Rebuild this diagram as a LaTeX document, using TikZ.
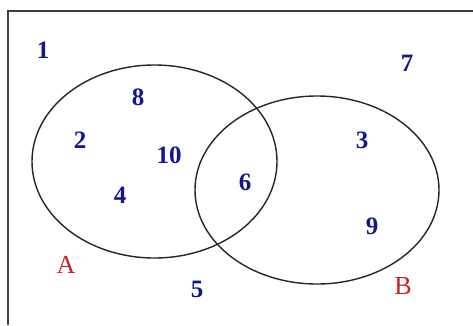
\documentclass[tikz,border=0pt]{standalone}
\usepackage{fontspec}
\usetikzlibrary{shapes.geometric}
\setmainfont{Liberation Serif}
\definecolor{numblue}{RGB}{20,20,150}
\definecolor{labred}{RGB}{200,35,35}
\begin{document}
\begin{tikzpicture}[x=1pt,y=-1pt,
  num/.style={text=numblue,font=\fontsize{25}{27}\selectfont\bfseries,inner sep=0pt},
  setlab/.style={text=labred,font=\fontsize{26}{28}\selectfont,inner sep=0pt},
  setring/.style={draw=black!85,line width=1.4pt}]
\useasboundingbox (0,0) rectangle (473,325);
\fill[white] (0,0) rectangle (473,325);
\coordinate (fl) at (8,325);
\coordinate (ftl) at (8,11);
\coordinate (ftr) at (473,11);
\draw[line width=2pt,black!75] (fl) -- (ftl) -- (ftr);
\node[setring,ellipse,minimum width=245pt,minimum height=193pt,inner sep=0pt] (A) at (154.5,161.5) {};
\node[setring,ellipse,minimum width=244pt,minimum height=188pt,inner sep=0pt] (B) at (317,190) {};
\node[num] (n1) at (43,50) {1};
\node[num] (n8) at (138,97) {8};
\node[num] (n2) at (80,140) {2};
\node[num] (n10) at (169,155) {10};
\node[num] (n4) at (120,195) {4};
\node[num] (n6) at (245,182) {6};
\node[num] (n3) at (362,140) {3};
\node[num] (n9) at (372,226) {9};
\node[num] (n7) at (407,63) {7};
\node[num] (n5) at (197,289) {5};
\node[setlab] (la) at (66,265) {A};
\node[setlab] (lb) at (403,286) {B};
\end{tikzpicture}
\end{document}
